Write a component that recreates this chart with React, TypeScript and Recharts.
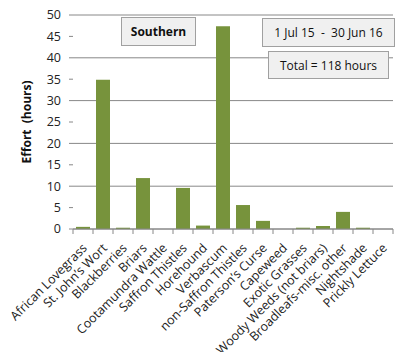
import { BarChart, Bar, XAxis, YAxis, CartesianGrid } from 'recharts'

const weeds = [
    'African Lovegrass',
    'St. John\u2019s Wort',
    'Blackberries',
    'Briars',
    'Cootamundra Wattle',
    'Saffron Thistles',
    'Horehound',
    'Verbascum',
    'non-Saffron Thistles',
    'Paterson\u2019s Curse',
    'Capeweed',
    'Exotic Grasses',
    'Woody Weeds (not briars)',
    'Broadleafs-misc. other',
    'Nightshade',
    'Prickly Lettuce',
]
const effort = [0.5, 34.9, 0.3, 11.9, 0, 9.6, 0.8, 47.4, 5.6, 1.9, 0, 0.3, 0.7, 4.0, 0.3, 0]
const yTicks = [0, 5, 10, 15, 20, 25, 30, 35, 40, 45, 50]

const data = weeds.map((name, i) => ({ name, effort: effort[i] }))

const font = '"Open Sans", sans-serif'
const band = 320 / weeds.length

// Excel style: tick marks sit between the categories, not under them
function WeedTick({ x, y, payload, index }: any) {
    const last = index === weeds.length - 1
    return (
        <g>
            <line x1={x - band / 2} x2={x - band / 2} y1={y - 2} y2={y + 3} stroke="#888" />
            {last && <line x1={x + band / 2} x2={x + band / 2} y1={y - 2} y2={y + 3} stroke="#888" />}
            <g transform={`translate(${x + 2},${y + 15})`}>
                <text
                    x={0}
                    y={0}
                    dy={4}
                    textAnchor="end"
                    transform="rotate(-45)"
                    fontSize={12.5}
                    fontFamily={font}
                    fill="#222"
                >
                    {payload.value}
                </text>
            </g>
        </g>
    )
}

const box: React.CSSProperties = {
    position: 'absolute',
    background: '#f0f0f0',
    border: '1px solid #a0a0a0',
    boxSizing: 'border-box',
    fontFamily: font,
    fontSize: 12,
    color: '#111',
    display: 'flex',
    alignItems: 'center',
    justifyContent: 'center',
    whiteSpace: 'pre',
}

export default function App() {
    return (
        <div
            style={{
                position: 'relative',
                width: 403,
                height: 360,
                margin: -8,
                background: '#fff',
                fontFamily: font,
            }}
        >
            <div
                style={{
                    position: 'absolute',
                    inset: 0,
                    border: '1px solid #8a8a8a',
                    boxSizing: 'border-box',
                    pointerEvents: 'none',
                }}
            />
            <BarChart
                width={403}
                height={360}
                data={data}
                margin={{ top: 15, right: 10, left: 0, bottom: 0 }}
                barCategoryGap="15%"
            >
                <CartesianGrid vertical={false} stroke="#888" strokeWidth={1} />
                <XAxis
                    dataKey="name"
                    interval={0}
                    height={131}
                    stroke="#888"
                    tickLine={false}
                    tickSize={0}
                    tick={<WeedTick />}
                />
                <YAxis
                    width={73}
                    domain={[0, 50]}
                    ticks={yTicks}
                    axisLine={false}
                    tickSize={4}
                    tickMargin={8}
                    stroke="#888"
                    tick={{ fill: '#222', fontSize: 12.5, fontFamily: font }}
                />
                <Bar dataKey="effort" fill="#77933C" isAnimationActive={false} />
            </BarChart>
            <div
                style={{
                    position: 'absolute',
                    left: 26,
                    top: 122,
                    transform: 'translate(-50%, -50%) rotate(-90deg)',
                    fontWeight: 'bold',
                    fontSize: 12,
                    whiteSpace: 'pre',
                    color: '#111',
                }}
            >
                {'Effort  (hours)'}
            </div>
            <div style={{ ...box, left: 121, top: 17, width: 75, height: 29, fontWeight: 'bold' }}>
                Southern
            </div>
            <div style={{ ...box, left: 262, top: 18, width: 133, height: 29 }}>
                {'1 Jul 15  -  30 Jun 16'}
            </div>
            <div style={{ ...box, left: 268, top: 51, width: 121, height: 28 }}>
                {'Total = 118 hours'}
            </div>
        </div>
    )
}
